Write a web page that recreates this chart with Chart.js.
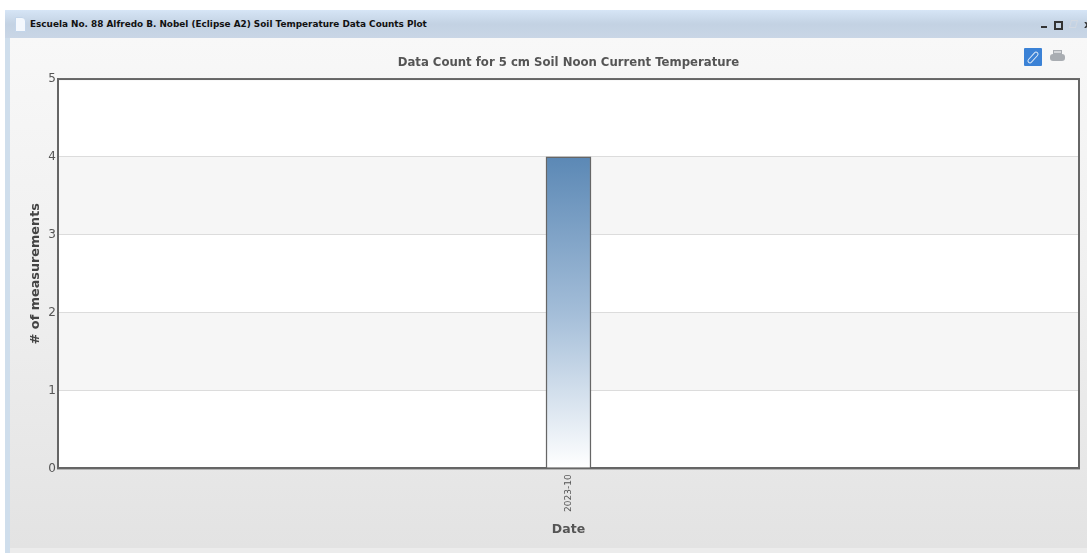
<!DOCTYPE html>
<html>
<head>
<meta charset="utf-8">
<title>Data Counts Plot</title>
<script src="https://cdn.jsdelivr.net/npm/chart.js@4"></script>
<style>
html, body { margin: 0; padding: 0; background: #fff; overflow: hidden; }
#win { position: absolute; left: 0; top: 0; width: 1087px; height: 553px; filter: blur(0.4px); }
#bar { position: absolute; left: 5px; top: 10px; width: 1082px; height: 28px;
	background: linear-gradient(#d6e5f6, #c3d2e3 50%, #c9d6e6); }
#bar span { position: absolute; left: 25px; top: 9px; font: bold 8.9px "DejaVu Sans"; color: #111; white-space: nowrap; }
#doc { position: absolute; left: 15px; top: 17px; width: 9px; height: 13px; background: #f4f8fd; border: 1px solid #c3d5ea; border-top-right-radius: 4px; }
#min { position: absolute; left: 1041px; top: 26px; width: 6px; height: 2px; background: #333; }
#max { position: absolute; left: 1054px; top: 21px; width: 5px; height: 5px; border: 2px solid #333; }
#res { position: absolute; left: 1070px; top: 20px; width: 5px; height: 6px; border: 1px solid #d2d9e2; transform: skewX(-15deg); }
#cls { position: absolute; left: 1084px; top: 18px; font: bold 11px "DejaVu Sans"; color: #333; }
#side { position: absolute; left: 5px; top: 38px; width: 5px; height: 515px; background: #cfdeec; }
#body { position: absolute; left: 10px; top: 38px; width: 1077px; height: 515px;
	background: linear-gradient(#f8f8f8, #f0f0f0 45%, #e3e3e3 99%, #ececec 99%); }
#link { position: absolute; left: 1024px; top: 48px; width: 18px; height: 18px; background: #3b82d6; border-radius: 1px; }
#link i { position: absolute; left: 2px; top: 7px; width: 12px; height: 3px; border: 1px solid #dce9f7; border-radius: 3px; transform: rotate(-48deg); }
#print { position: absolute; left: 1050px; top: 54px; width: 15px; height: 7px; background: #a9adb2; border-radius: 3px; }
#print i { position: absolute; left: 3px; top: -4px; width: 7px; height: 2px; background: #d5d7da; border: 1px solid #a9adb2; }
canvas { position: absolute; left: 0; top: 0; }
</style>
</head>
<body>
<div id="win">
	<div id="bar"><span>Escuela No. 88 Alfredo B. Nobel (Eclipse A2) Soil Temperature Data Counts Plot</span></div>
	<div id="doc"></div>
	<div id="min"></div><div id="max"></div><div id="res"></div><div id="cls">x</div>
	<div id="side"></div>
	<div id="body"></div>
	<div id="link"><i></i></div>
	<div id="print"><i></i></div>
	<canvas id="canvas" width="1087" height="553"></canvas>
</div>
<script>
var categories = ["2023-10"];
var counts = [4];
var chartTitle = "Data Count for 5 cm Soil Noon Current Temperature";
var xTitle = "Date";
var yTitle = "# of measurements";

// alternating bands behind the grid, box round the plot
var bands = {
	id: "bands",
	beforeDraw: function(chart) {
		var a = chart.chartArea, y = chart.scales.y, c = chart.ctx;
		c.save();
		for (var i = 0; i < 5; i++) {
			c.fillStyle = i % 2 ? "#f6f6f6" : "#ffffff";
			c.fillRect(a.left, y.getPixelForValue(i + 1), a.right - a.left, y.getPixelForValue(i) - y.getPixelForValue(i + 1));
		}
		c.restore();
	},
	afterDraw: function(chart) {
		var a = chart.chartArea, c = chart.ctx;
		c.save();
		c.strokeStyle = "#666";
		c.lineWidth = 2;
		c.strokeRect(a.left, a.top, a.right - a.left, a.bottom - a.top);
		c.restore();
	}
};

var ctx = document.getElementById("canvas").getContext("2d");
var grad = ctx.createLinearGradient(0, 156, 0, 468);
grad.addColorStop(0, "#5b88b5");
grad.addColorStop(0.5, "#a3bdd8");
grad.addColorStop(1, "#ffffff");

new Chart(ctx, {
	type: "bar",
	plugins: [bands],
	data: {
		labels: categories,
		datasets: [{
			data: counts,
			backgroundColor: grad,
			borderColor: "#666",
			borderWidth: 1.5,
			barThickness: 45
		}]
	},
	options: {
		animation: false,
		responsive: false,
		layout: { padding: { left: 28, right: 8, top: 56, bottom: 16 } },
		plugins: {
			legend: { display: false },
			tooltip: { enabled: false },
			title: {
				display: true,
				fullSize: false,
				text: chartTitle,
				color: "#555",
				font: { family: "DejaVu Sans", size: 11.7, weight: "bold" },
				padding: { top: 0, bottom: 9 }
			}
		},
		scales: {
			x: {
				grid: { display: false, drawTicks: false },
				border: { color: "#666", width: 2 },
				ticks: { maxRotation: 90, minRotation: 90, color: "#555", padding: 6, font: { family: "DejaVu Sans", size: 9 } },
				title: { display: true, text: xTitle, color: "#555", padding: { top: 4, bottom: 0 }, font: { family: "DejaVu Sans", size: 12.5, weight: "bold" } }
			},
			y: {
				min: 0,
				max: 5,
				grid: { color: "#dcdcdc", drawTicks: false },
				border: { color: "#666", width: 2 },
				ticks: { stepSize: 1, color: "#555", padding: 2, font: { family: "DejaVu Sans", size: 12 } },
				title: { display: true, text: yTitle, color: "#444", padding: { top: 0, bottom: 3 }, font: { family: "DejaVu Sans", size: 12.8, weight: "bold" } }
			}
		}
	},
});
</script>
</body>
</html>
